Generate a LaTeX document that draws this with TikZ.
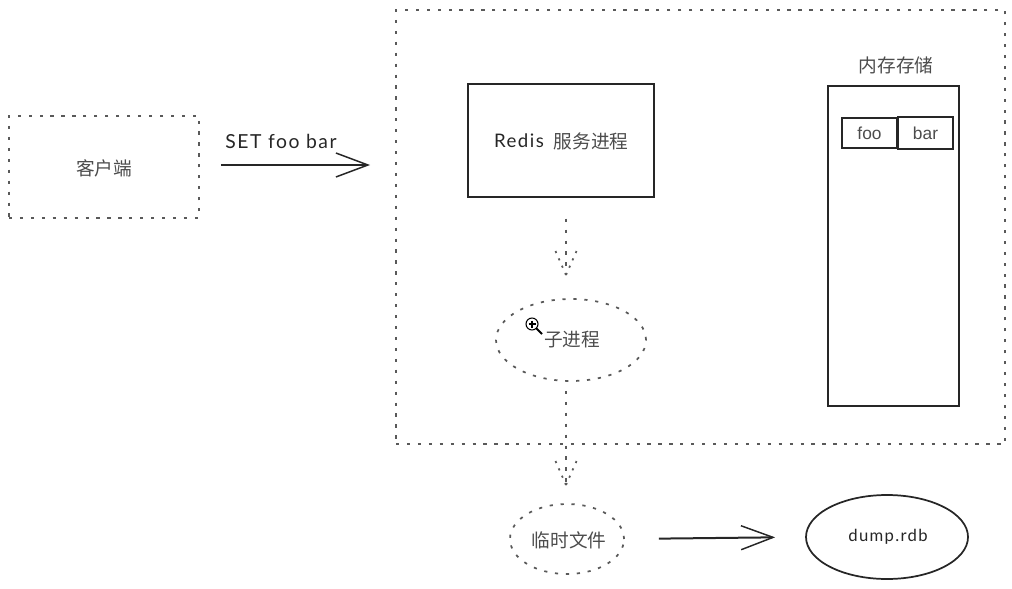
\documentclass[tikz,border=0pt]{standalone}
\usepackage{fontspec}
\usepackage{tikz}
\usetikzlibrary{shapes.geometric,arrows.meta}
\newfontfamily\cjkfont{Noto Sans CJK SC}
\newfontfamily\handfont[LetterSpace=8]{Lato}
\setmainfont{Liberation Sans}

\tikzset{
	dotline/.style={line width=1.3pt,draw=black!65,dash pattern=on 2.4pt off 5.8pt},
	headline/.style={line width=1.3pt,draw=black!65,dash pattern=on 1.6pt off 4.4pt},
	solidbox/.style={draw=black!85,line width=1pt,inner sep=0pt},
	dotbox/.style={dotline,inner sep=0pt,text=black},
	cjktext/.style={font=\cjkfont\fontsize{14}{17}\selectfont,text=black!70},
	handarrow/.style={line width=1.5pt,draw=black!85,-{Straight Barb[length=24pt,width=18pt,line width=1.1pt]}}
}

\begin{document}
\begin{tikzpicture}[x=0.75pt,y=0.75pt,yscale=-1,xscale=1]
	\useasboundingbox (0,0) rectangle (1012,588);

	%Outer dotted frame
	\node [dotbox,minimum width=456.75pt,minimum height=325.5pt] (server) at (700.5,227) {};
	%Client
	\node [dotbox,minimum width=142.5pt,minimum height=76.5pt] (client) at (104,167) {};
	\node [cjktext] (clientText) at (104,168) {客户端};
	%Redis process
	\node [solidbox,minimum width=139.5pt,minimum height=84.75pt] (redis) at (561,140.5) {};
	\node [font=\handfont\fontsize{14}{16}\selectfont,text=black!85] (redisName) at (519,141) {Redis};
	\node [cjktext] (redisText) at (591,141) {服务进程};
	%Memory store
	\node [cjktext] (memText) at (896,65) {内存存储};
	\node [solidbox,minimum width=98.25pt,minimum height=240pt] (mem) at (893.5,246) {};
	\node [solidbox,minimum width=41.25pt,minimum height=22.5pt,font=\fontsize{13}{16}\selectfont,text=black!70] (foo) at (869.5,133) {foo};
	\node [solidbox,minimum width=41.25pt,minimum height=24pt,font=\fontsize{13}{16}\selectfont,text=black!70] (bar) at (925.5,133) {bar};
	%Child process
	\node [dotbox,ellipse,minimum width=112.5pt,minimum height=61.5pt] (child) at (571,340) {};
	\node [cjktext] (childText) at (572,340) {子进程};
	%Temp file and dump
	\node [dotbox,ellipse,minimum width=85.5pt,minimum height=52.5pt] (temp) at (567,539) {};
	\node [cjktext] (tempText) at (569,540) {临时文件};
	\node [ellipse,draw=black!85,line width=1.3pt,inner sep=0pt,minimum width=121.5pt,minimum height=63pt] (dump) at (887,537) {};
	\node [font=\handfont\fontsize{12.5}{14}\selectfont,text=black!85] (dumpText) at (888,537) {dump.rdb};

	%Set command
	\coordinate (setTip) at (370,165);
	\coordinate (childTip) at (566,275);
	\coordinate (tempTip) at (566,485);
	\draw [handarrow,shorten <=15.75pt] (client.east |- setTip) -- (setTip);
	\node [font=\handfont\fontsize{14.5}{17}\selectfont,text=black!85] (setText) at (281,141) {SET foo bar};

	%Dotted arrows
	\draw [dotline,shorten <=15.75pt] ([xshift=3.75pt]redis.south) -- (childTip);
	\draw [headline] (childTip) -- ++(-11,-25);
	\draw [headline] (childTip) -- ++(11,-25);
	\draw [dotline,shorten <=6.75pt] ([xshift=-3.75pt]child.south) -- (tempTip);
	\draw [headline] (tempTip) -- ++(-11,-25);
	\draw [headline] (tempTip) -- ++(11,-25);

	\draw [handarrow,shorten <=25.5pt,shorten >=22.5pt] (temp.east) -- (dump.west);

	%Cursor
	\node [circle,draw=black,line width=0.8pt,fill=white,inner sep=0pt,minimum size=9pt] (cursor) at (532,324) {};
	\coordinate (cursorEnd) at (542,334);
	\draw [line width=1.4pt] (cursor) ++(4,4) -- (cursorEnd);
	\draw [line width=0.9pt] (cursor) ++(-3.5,0) -- ++(7,0);
	\draw [line width=0.9pt] (cursor) ++(0,-3.5) -- ++(0,7);
\end{tikzpicture}
\end{document}
